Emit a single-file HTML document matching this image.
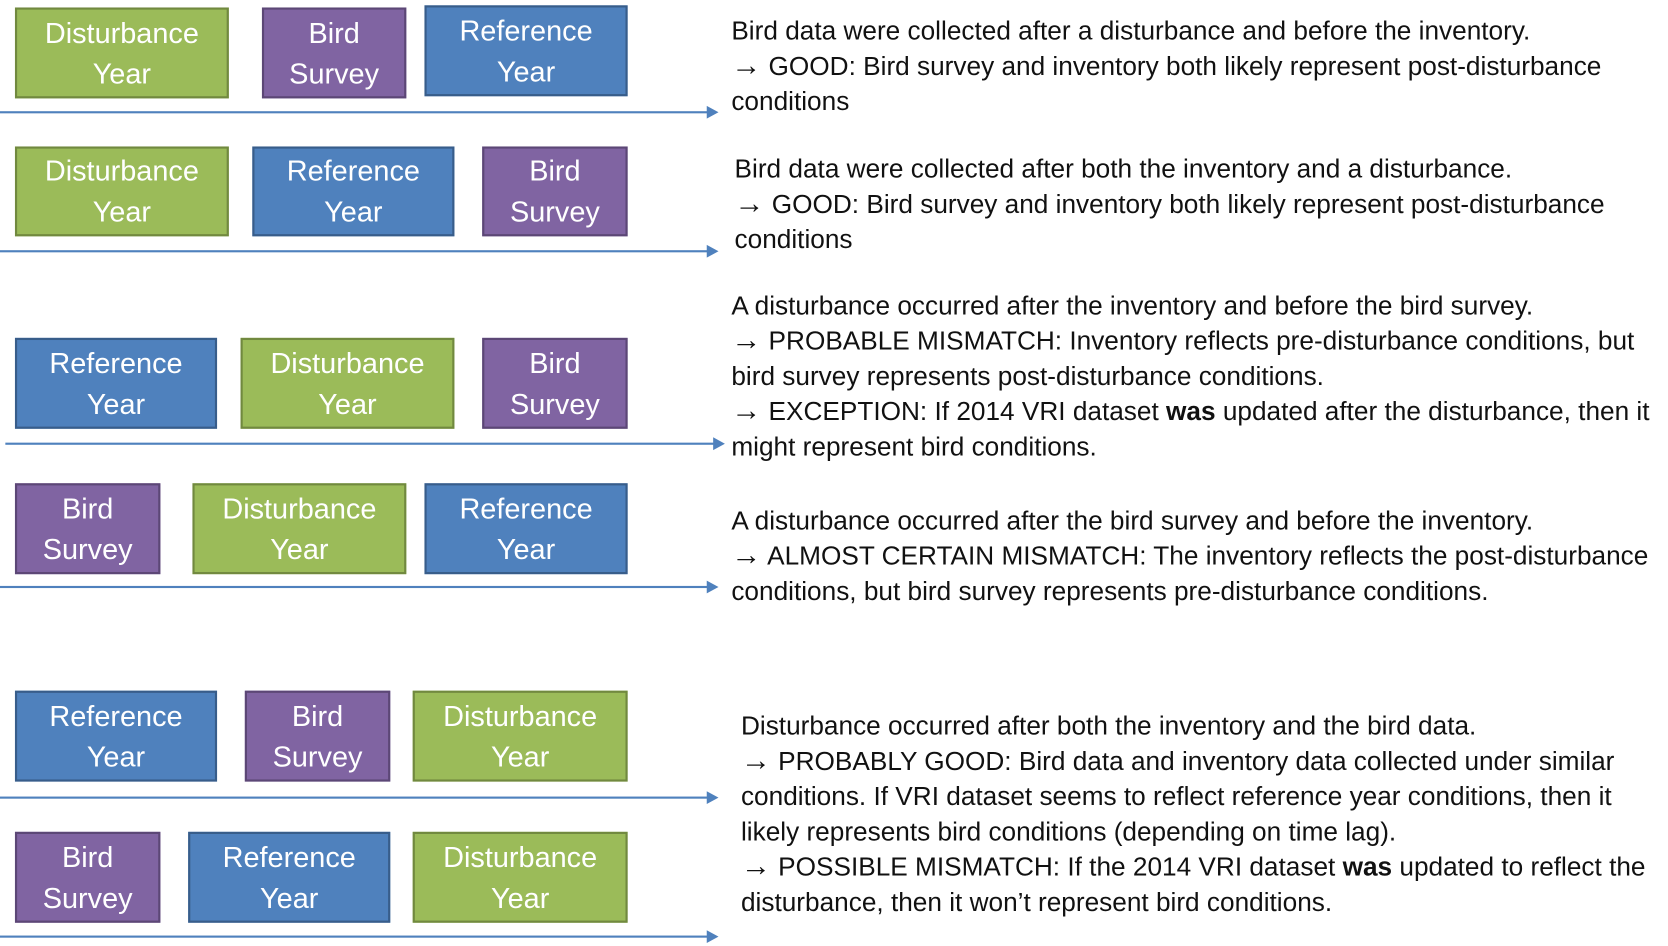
<!DOCTYPE html>
<html><head><meta charset="utf-8"><style>
html,body{margin:0;padding:0;background:#fff;width:1668px;height:946px;overflow:hidden}
#w{position:absolute;left:0;top:0;width:1560px;height:885px;transform:scale(1.0692);transform-origin:0 0}
.b{position:absolute;box-sizing:border-box;border:2px solid;color:#fff;font-family:"Liberation Sans Narrow","Liberation Sans",sans-serif;font-size:27px;line-height:38px;text-align:center;display:flex;align-items:center;justify-content:center}
.g{background:#9bbb59;border-color:#71893f}
.p{background:#8064a2;border-color:#5c4776}
.u{background:#4f81bd;border-color:#385d8a}
.a{position:absolute;height:2px;background:#4f81bd}
.a:after{content:"";position:absolute;right:-10px;top:-5px;border-left:11px solid #4f81bd;border-top:6px solid transparent;border-bottom:6px solid transparent}
.t{position:absolute;font-family:"Liberation Sans Narrow","Liberation Sans",sans-serif;font-size:24.5px;line-height:33px;color:#111;white-space:nowrap}
.t i{font-style:normal;font-weight:bold;font-size:28px;line-height:0}
</style></head><body><div id="w">
<div class="b g" style="left:14px;top:7px;width:200px;height:85px">Disturbance<br>Year</div>
<div class="b p" style="left:245px;top:7px;width:135px;height:85px">Bird<br>Survey</div>
<div class="b u" style="left:397px;top:5px;width:190px;height:85px">Reference<br>Year</div>
<div class="a" style="left:0;top:104px;width:662px"></div>

<div class="b g" style="left:14px;top:137px;width:200px;height:84px">Disturbance<br>Year</div>
<div class="b u" style="left:236px;top:137px;width:189px;height:84px">Reference<br>Year</div>
<div class="b p" style="left:451px;top:137px;width:136px;height:84px">Bird<br>Survey</div>
<div class="a" style="left:0;top:234px;width:662px"></div>

<div class="b u" style="left:14px;top:316px;width:189px;height:85px">Reference<br>Year</div>
<div class="b g" style="left:225px;top:316px;width:200px;height:85px">Disturbance<br>Year</div>
<div class="b p" style="left:451px;top:316px;width:136px;height:85px">Bird<br>Survey</div>
<div class="a" style="left:5px;top:414px;width:663px"></div>

<div class="b p" style="left:14px;top:452px;width:136px;height:85px">Bird<br>Survey</div>
<div class="b g" style="left:180px;top:452px;width:200px;height:85px">Disturbance<br>Year</div>
<div class="b u" style="left:397px;top:452px;width:190px;height:85px">Reference<br>Year</div>
<div class="a" style="left:0;top:548px;width:662px"></div>

<div class="b u" style="left:14px;top:646px;width:189px;height:85px">Reference<br>Year</div>
<div class="b p" style="left:229px;top:646px;width:136px;height:85px">Bird<br>Survey</div>
<div class="b g" style="left:386px;top:646px;width:201px;height:85px">Disturbance<br>Year</div>
<div class="a" style="left:0;top:745px;width:662px"></div>

<div class="b p" style="left:14px;top:778px;width:136px;height:85px">Bird<br>Survey</div>
<div class="b u" style="left:176px;top:778px;width:189px;height:85px">Reference<br>Year</div>
<div class="b g" style="left:386px;top:778px;width:201px;height:85px">Disturbance<br>Year</div>
<div class="a" style="left:0;top:875px;width:662px"></div>

<div class="t" style="left:684px;top:13px">Bird data were collected after a disturbance and before the inventory.<br><i>&#8594;</i> GOOD: Bird survey and inventory both likely represent post-disturbance<br>conditions</div>
<div class="t" style="left:687px;top:142px">Bird data were collected after both the inventory and a disturbance.<br><i>&#8594;</i> GOOD: Bird survey and inventory both likely represent post-disturbance<br>conditions</div>
<div class="t" style="left:684px;top:270px">A disturbance occurred after the inventory and before the bird survey.<br><i>&#8594;</i> PROBABLE MISMATCH: Inventory reflects pre-disturbance conditions, but<br>bird survey represents post-disturbance conditions.<br><i>&#8594;</i> EXCEPTION: If 2014 VRI dataset <b>was</b> updated after the disturbance, then it<br>might represent bird conditions.</div>
<div class="t" style="left:684px;top:471px">A disturbance occurred after the bird survey and before the inventory.<br><i>&#8594;</i> ALMOST CERTAIN MISMATCH: The inventory reflects the post-disturbance<br>conditions, but bird survey represents pre-disturbance conditions.</div>
<div class="t" style="left:693px;top:663px">Disturbance occurred after both the inventory and the bird data.<br><i>&#8594;</i> PROBABLY GOOD: Bird data and inventory data collected under similar<br>conditions. If VRI dataset seems to reflect reference year conditions, then it<br>likely represents bird conditions (depending on time lag).<br><i>&#8594;</i> POSSIBLE MISMATCH: If the 2014 VRI dataset <b>was</b> updated to reflect the<br>disturbance, then it won&#8217;t represent bird conditions.</div>
</div></body></html>
